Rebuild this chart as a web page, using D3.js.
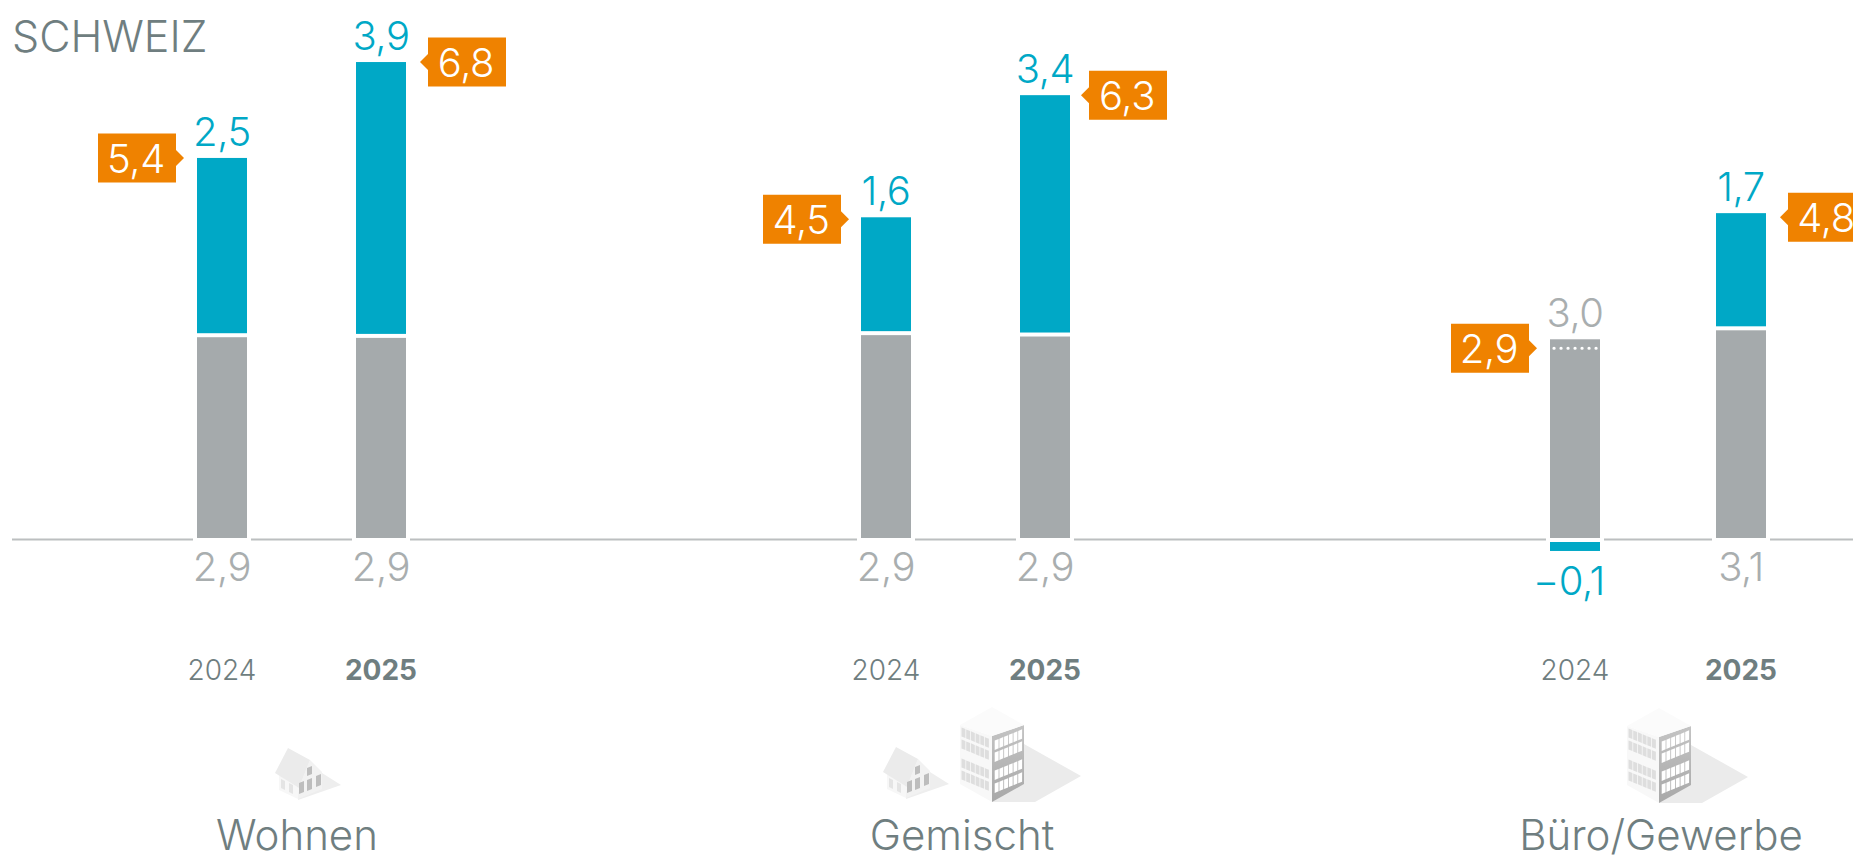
<!DOCTYPE html>
<html><head><meta charset="utf-8">
<script src="https://cdn.jsdelivr.net/npm/d3@7"></script>
<style>html,body{margin:0;padding:0;background:#fff;overflow:hidden}svg{display:block}text{font-family:Inter,Roboto,"Liberation Sans",sans-serif;font-weight:300}</style>
</head><body><svg id="c" width="1853" height="855"></svg>
<script>
const regionTitle = "SCHWEIZ";
const barIds = ["w24","w25","g24","g25","b24","b25"];
const years = ["2024","2025","2024","2025","2024","2025"];
const grey = [2.91,2.90,2.94,2.92,2.88,3.01];
const blue = [2.54,3.94,1.65,3.44,-0.13,1.64];
const greyLabels = [2.9,2.9,2.9,2.9,3.0,3.1];
const blueLabels = [2.5,3.9,1.6,3.4,-0.1,1.7];
const totals = [5.4,6.8,4.5,6.3,2.9,4.8];
const categories = ["Wohnen","Gemischt","Büro/Gewerbe"];

const W=1853,H=855,C={blue:"#00a8c6",grey:"#a5aaac",lab:"#a9aeaf",txt:"#6f7e80",orange:"#ef8200",line:"#bcbfc0"};
const svg=d3.select("#c");
const x=d3.scaleOrdinal().domain(barIds).range([222,381,886,1045,1575,1741]);
const y=d3.scaleLinear().domain([0,1]).range([538,469]);
const catX=d3.scaleOrdinal().domain(categories).range([297,962,1661]);
const flagDx=d3.scaleOrdinal().domain(barIds).range([0,0,1,-3,0,0]);
const flagDy=d3.scaleOrdinal().domain(barIds).range([0,0,2,0,0,4]);
const BW=50,GAP=4;
const fmt=v=>d3.format(".1f")(Math.abs(v)).replace(".",",");
const sgn=v=>(v<0?"\u2212":"")+fmt(v);
const rows=barIds.map((id,i)=>({id,i,g:grey[i],b:blue[i],gl:greyLabels[i],bl:blueLabels[i],t:totals[i],yr:years[i],right:years[i]==="2025"}));

// baseline
svg.append("line").attr("x1",12).attr("x2",W).attr("y1",539.5).attr("y2",539.5).attr("stroke",C.line).attr("stroke-width",2);
svg.selectAll(".halo").data(rows).join("rect").attr("x",d=>x(d.id)-BW/2-4).attr("width",BW+8).attr("y",530).attr("height",12).attr("fill","#fff");

// bars
svg.selectAll(".g").data(rows).join("rect").attr("x",d=>x(d.id)-BW/2).attr("width",BW)
  .attr("y",d=>y(d.g)).attr("height",d=>y(0)-y(d.g)).attr("fill",C.grey);
svg.selectAll(".b").data(rows).join("rect").attr("x",d=>x(d.id)-BW/2).attr("width",BW)
  .attr("y",d=>d.b>=0?y(d.g+d.b)-GAP:y(0)+GAP)
  .attr("height",d=>Math.abs(y(d.b)-y(0))).attr("fill",C.blue);

const topY=d=>d.b>=0?y(d.g+d.b)-GAP:y(d.g);
// value labels
const FS=40;
svg.selectAll(".tl").data(rows).join("text").attr("x",d=>x(d.id)).attr("y",d=>topY(d)-12)
  .attr("text-anchor","middle").attr("font-size",FS).attr("letter-spacing",-0.4).attr("fill",d=>d.b>=0?C.blue:C.lab)
  .text(d=>d.b>=0?fmt(d.bl):fmt(d.gl));
svg.selectAll(".bl").data(rows).join("text").attr("x",d=>x(d.id)-(d.b<0?6:0)).attr("y",d=>d.b>=0?581:595)
  .attr("text-anchor","middle").attr("font-size",FS).attr("letter-spacing",-0.4).attr("fill",d=>d.b>=0?C.lab:C.blue)
  .text(d=>d.b>=0?fmt(d.gl):sgn(d.bl));

// dotted marker where the total sits inside the grey bar
rows.filter(d=>d.b<0).forEach(d=>{
  svg.append("line").attr("x1",x(d.id)-BW/2+4).attr("x2",x(d.id)+BW/2).attr("y1",y(d.g+d.b)).attr("y2",y(d.g+d.b))
   .attr("stroke","#fff").attr("stroke-width",3.2).attr("stroke-linecap","round").attr("stroke-dasharray","0.1 6.9");
});

// orange callouts
const BOXW=78,BOXH=49;
const flagY=d=>(d.b>=0?y(d.g+d.b)-GAP:y(d.g+d.b))+flagDy(d.id);
const flag=svg.selectAll(".f").data(rows).join("g").attr("transform",d=>`translate(${(d.right?x(d.id)+BW/2+22:x(d.id)-BW/2-21-BOXW)+flagDx(d.id)},${flagY(d)})`);
flag.append("path").attr("fill",C.orange).attr("d",d=>d.right
  ?`M0,${-BOXH/2}H${BOXW}V${BOXH/2}H0V8L-8,0L0,-8Z`
  :`M0,${-BOXH/2}H${BOXW}V-8L${BOXW+8},0L${BOXW},8V${BOXH/2}H0Z`);
flag.append("text").attr("x",BOXW/2-1).attr("y",15).attr("text-anchor","middle").attr("font-size",FS).attr("letter-spacing",-0.4).attr("fill","#fff").text(d=>fmt(d.t));

// years
svg.selectAll(".yr").data(rows).join("text").attr("x",d=>x(d.id)).attr("y",680).attr("text-anchor","middle")
  .attr("font-size",28).attr("fill",C.txt).style("font-weight",d=>d.right?700:300).text(d=>d.yr);

// titles
svg.append("text").attr("x",12).attr("y",52).attr("font-size",43).attr("fill",C.txt).text(regionTitle);
svg.selectAll(".cat").data(categories).join("text").attr("x",d=>catX(d)).attr("y",850).attr("text-anchor","middle")
  .attr("font-size",42).attr("fill",C.txt).text(d=>d);

// icons
const defs=svg.append("defs");
defs.append("filter").attr("id","soft").append("feGaussianBlur").attr("stdDeviation",0.5);
const wall=defs.append("linearGradient").attr("id","wallR").attr("x1",0).attr("y1",0).attr("x2",0).attr("y2",1);
wall.append("stop").attr("offset",0).attr("stop-color","#c4c4c4");
wall.append("stop").attr("offset",1).attr("stop-color","#a8a8a8");
const poly=(g,pts,fill)=>g.append("polygon").attr("points",pts.map(p=>p.join(",")).join(" ")).attr("fill",fill);
function house(px,py){
  const g=svg.append("g").attr("transform",`translate(${px},${py})`).attr("filter","url(#soft)");
  poly(g,[[0,0],[43,-15],[24,-27],[0,-8]],"#eeeeee");
  poly(g,[[-19,-25],[-19,-10],[0,-1],[1,-12]],"#f7f7f7");
  poly(g,[[0,-1],[24,-11],[24,-28],[12,-40],[1,-12]],"#f2f2f2");
  poly(g,[[-10,-52],[-23,-27],[1,-12],[12,-40]],"#ebebeb");
  [[1,-6,5,11],[9,-9,5,11],[18,-13,5,11],[9,-24,5,8]].forEach(([a,b,w,h])=>poly(g,[[a,b],[a+w,b-2],[a+w,b-2-h],[a,b-h]],"#bdbdbd"));
  [[-17,-12],[-9,-8]].forEach(([a,b])=>poly(g,[[a,b],[a+4,b+2],[a+4,b-7],[a,b-9]],"#e4e4e4"));
}
function tower(px,py){
  const g=svg.append("g").attr("transform",`translate(${px},${py})`).attr("filter","url(#soft)");
  poly(g,[[32,-58],[89,-26],[43,0],[0,0]],"#ebebeb");
  poly(g,[[-32,-77],[-32,-18],[0,0],[0,-66]],"#f8f8f8");
  poly(g,[[0,0],[32,-18],[32,-77],[0,-66]],"url(#wallR)");
  poly(g,[[-32,-77],[0,-95],[32,-77],[0,-66]],"#fbfbfb");
  [-51,-39,-21,-8].forEach(r=>d3.range(6).forEach(i=>{
    const a=2.7+i*4.7,b=r-a*0.41;
    poly(g,[[a,b],[a+3.9,b-1.6],[a+3.9,b-10.9],[a,b-9.3]],"#fff");
  }));
  [-53,-41,-22,-10].forEach(r=>d3.range(6).forEach(i=>{
    const c=-2.3-(i+1)*4.7,d=r+c*0.41;
    poly(g,[[c,d],[c+3.9,d+1.6],[c+3.9,d-7.4],[c,d-9]],"#dedede");
  }));
}
house(298,800);house(906,799);tower(992,802);tower(1659,803);
</script></body></html>
